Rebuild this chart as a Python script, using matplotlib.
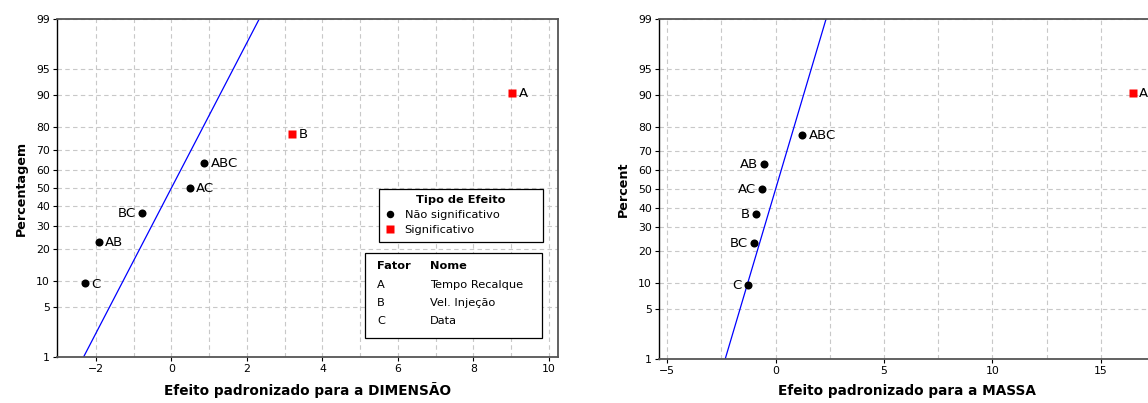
from statistics import NormalDist
import matplotlib.pyplot as plt
from matplotlib.lines import Line2D
from matplotlib.patches import Rectangle

# Normal probability plots of the standardized effects
effects = ['A', 'B', 'C', 'AB', 'AC', 'BC', 'ABC']

effect_dimensao = [9.03, 3.20, -2.29, -1.93, 0.48, -0.78, 0.87]
percent_dimensao = [90.54, 77.03, 9.46, 22.97, 50.0, 36.49, 63.51]
significant_dimensao = ['A', 'B']

effect_massa = [16.49, -0.92, -1.29, -0.54, -0.63, -1.01, 1.23]
percent_massa = [90.54, 36.49, 9.46, 63.51, 50.0, 22.97, 77.03]
significant_massa = ['A']

# label side: +1 right of the point, -1 left of it
side_dimensao = [1, 1, 1, 1, 1, -1, 1]
side_massa = [1, -1, -1, -1, -1, -1, 1]

factor_codes = ['A', 'B', 'C']
factor_names = ['Tempo Recalque', 'Vel. Injeção', 'Data']

y_ticks = [1, 5, 10, 20, 30, 40, 50, 60, 70, 80, 90, 95, 99]
line_mean, line_sd = 0.0, 1.0

nd = NormalDist()
W, H = 1148, 403


def z(p):
    return nd.inv_cdf(p / 100.0)


def fx(x):
    return x / W


def fy(y):
    return 1 - y / H


def draw_panel(ax, values, percent, significant, sides, xlim, major, minor, xlabel, ylabel):
    zmin, zmax = z(1), z(99)
    # fitted line
    ax.plot([line_mean + line_sd * zmin, line_mean + line_sd * zmax], [zmin, zmax],
            color='blue', lw=0.9, zorder=2)
    for name, v, p, s in zip(effects, values, percent, sides):
        if name in significant:
            ax.plot(v, z(p), 's', color='red', ms=5.4, mec='none', zorder=3)
        else:
            ax.plot(v, z(p), 'o', color='black', ms=5.8, mec='none', zorder=3)
        ax.annotate(name, (v, z(p)), xytext=(4.5 * s, -0.5), textcoords='offset points',
                    ha='left' if s > 0 else 'right', va='center', fontsize=9.5)

    ax.set_xlim(*xlim)
    ax.set_ylim(zmin, zmax)
    ax.set_xticks(major)
    ax.set_xticks(minor, minor=True)
    ax.set_yticks([z(t) for t in y_ticks])
    ax.set_yticklabels([str(t) for t in y_ticks])
    ax.tick_params(labelsize=7.8, length=3, width=0.8, pad=2)
    ax.tick_params(axis='x', which='minor', length=0)
    ax.grid(True, which='both', color='#c8c8c8', ls=(0, (4, 3)), lw=0.8)
    ax.set_axisbelow(True)
    for sp in ax.spines.values():
        sp.set_color('#555555')
        sp.set_linewidth(1.3)
    ax.spines['left'].set_color('black')
    ax.spines['left'].set_linewidth(1.0)
    ax.set_xlabel(xlabel, fontsize=9.8, fontweight='bold', labelpad=6)
    ax.set_ylabel(ylabel, fontsize=9.2, fontweight='bold', labelpad=6)


fig = plt.figure(figsize=(W / 100, H / 100), dpi=100)

ax1 = fig.add_axes([fx(57), fy(357), fx(558 - 57), (357 - 19) / H])
draw_panel(ax1, effect_dimensao, percent_dimensao, significant_dimensao, side_dimensao,
           (-3.03, 10.24), list(range(-2, 11, 2)), list(range(-2, 11)),
           'Efeito padronizado para a DIMENSÃO', 'Percentagem')

ax2 = fig.add_axes([fx(659), fy(359), fx(1155 - 659), (359 - 19) / H])
draw_panel(ax2, effect_massa, percent_massa, significant_massa, side_massa,
           (-5.38, 17.45), [-5, 0, 5, 10, 15], [-5, -2.5, 0, 2.5, 5, 7.5, 10, 12.5, 15, 17.5],
           'Efeito padronizado para a MASSA', 'Percent')

# legend: type of effect
handles = [Line2D([], [], marker='o', color='black', ls='', ms=5.4, mec='none'),
           Line2D([], [], marker='s', color='red', ls='', ms=5.2, mec='none')]
leg = ax1.legend(handles, ['Não significativo', 'Significativo'], title='Tipo de Efeito',
                 title_fontproperties={'weight': 'bold', 'size': 8.2}, fontsize=8.2,
                 loc='upper left', mode='expand',
                 bbox_to_anchor=(fx(379), fy(189), fx(543 - 379), 0.0001),
                 bbox_transform=fig.transFigure, borderaxespad=0, borderpad=0.55,
                 handlelength=0.8, handletextpad=0.9, labelspacing=0.45,
                 fancybox=False, framealpha=1, edgecolor='black')
leg.get_frame().set_linewidth(0.9)

# factor table
fig.add_artist(Rectangle((fx(365), fy(338)), fx(542 - 365), (338 - 253) / H,
                         transform=fig.transFigure, fill=True, facecolor='white',
                         edgecolor='black', lw=0.9))
fig.text(fx(377), fy(266), 'Fator', fontsize=8.2, fontweight='bold', va='center')
fig.text(fx(430), fy(266), 'Nome', fontsize=8.2, fontweight='bold', va='center')
for i, (code, name) in enumerate(zip(factor_codes, factor_names)):
    fig.text(fx(377), fy(285 + 18 * i), code, fontsize=8.2, va='center')
    fig.text(fx(430), fy(285 + 18 * i), name, fontsize=8.2, va='center')

fig.savefig('out.png', dpi=100)
